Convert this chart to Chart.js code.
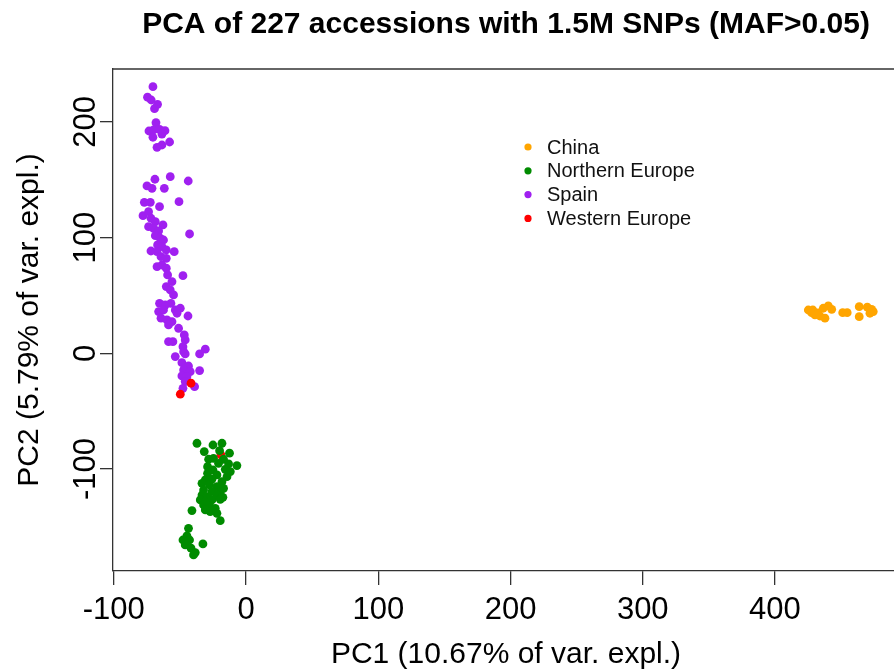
<!DOCTYPE html>
<html>
<head>
<meta charset="utf-8">
<script src="https://cdn.jsdelivr.net/npm/chart.js@4"></script>
<style>
  html, body { margin: 0; padding: 0; background: #fff; }
  canvas { display: block; }
</style>
</head>
<body>
<canvas id="pca" width="894" height="671"></canvas>
<script>
// PCA coordinates per population (PC1, PC2)
const chinaPC1 = [425.2, 427.7, 430.2, 434.0, 437.8, 436.5, 440.3, 442.9, 451.2, 454.6, 463.7, 463.7, 469.8, 473.1, 474.3, 471.8, 428.6, 432.5];
const chinaPC2 = [37.4, 35.1, 33.1, 32.2, 30.3, 38.9, 40.9, 38.0, 35.1, 35.1, 40.3, 31.6, 39.8, 38.0, 36.0, 34.6, 37.4, 34.8];

const northPC1 = [-37.1, -25.0, -18.2, -31.6, -12.5, -20.0, -28.3, -24.6, -17.0, -20.8, -13.2, -6.9, -29.1, -25.0, -15.7, -11.9,
  -29.1, -22.0, -14.4, -30.8, -25.8, -18.2, -33.3, -27.6, -22.0, -17.0, -32.1, -25.8, -19.5, -33.3, -29.1, -22.0,
  -17.5, -34.6, -30.8, -25.8, -19.5, -32.1, -27.6, -30.8, -23.3, -27.1, -40.9, -22.0, -19.5, -43.5, -44.7, -47.7,
  -42.7, -46.0, -32.6, -41.6, -38.4, -39.7];
const northPC2 = [-77.8, -79.3, -77.8, -85.0, -86.4, -84.2, -91.6, -90.8, -91.6, -95.1, -95.7, -97.1, -98.0, -100.9, -100.3, -102.3,
  -103.7, -105.2, -106.7, -109.5, -108.9, -111.0, -112.4, -113.8, -115.3, -116.7, -118.2, -119.6, -119.6, -122.5, -123.9, -122.5,
  -124.5, -126.8, -128.3, -126.8, -126.2, -131.1, -132.0, -135.4, -134.0, -136.9, -136.0, -138.3, -144.7, -151.3, -157.9, -161.4,
  -161.4, -165.7, -164.8, -168.5, -172.3, -174.3];

const spainPC1 = [-70.4, -74.5, -71.7, -66.9, -69.2, -68.1, -73.4, -69.9, -65.4, -61.3, -63.6, -70.4, -57.8, -63.6, -67.3,
  -68.9, -57.3, -43.7, -74.9, -61.8, -71.1, -76.9, -72.4, -65.4, -50.7, -77.9, -73.7, -71.9, -68.6, -73.7, -62.8,
  -69.9, -66.1, -42.7, -68.6, -64.9, -62.4, -66.9, -63.6, -71.9, -67.3, -60.3, -54.3, -64.3, -60.3, -67.3, -63.6,
  -60.3, -47.7, -59.3, -56.0, -60.3, -57.3, -54.8, -65.4, -61.1, -56.8, -66.1, -62.4, -53.5, -49.7, -52.2, -64.3,
  -59.8, -56.0, -43.9, -58.6, -51.0, -46.7, -46.0, -58.6, -55.3, -47.7, -47.2, -30.8, -46.0, -35.1, -53.5, -48.5,
  -43.5, -47.2, -42.2, -35.1, -48.5, -44.7, -46.0, -38.9, -47.7];
const spainPC2 = [230.4, 221.3, 218.9, 215.2, 211.4, 199.3, 192.1, 193.0, 193.6, 192.4, 189.5, 186.7, 182.6, 180.0, 178.0,
  150.4, 152.6, 148.9, 144.6, 142.6, 142.6, 130.5, 130.5, 126.7, 131.0, 118.9, 122.4, 116.7, 113.7, 109.4, 110.9,
  108.0, 105.7, 103.1, 101.6, 99.4, 97.9, 93.6, 92.1, 88.4, 87.8, 89.3, 87.8, 83.5, 82.1, 74.8, 76.3,
  73.5, 67.1, 67.7, 61.9, 57.6, 54.7, 50.4, 43.2, 41.7, 43.2, 36.0, 37.4, 37.4, 38.9, 34.6, 30.3,
  28.8, 27.3, 32.2, 24.5, 21.6, 15.8, 11.5, 10.0, 10.0, 5.7, 1.4, 3.5, -0.6, -0.6, -2.9, -8.1,
  -11.0, -14.4, -15.9, -15.0, -19.6, -20.2, -24.5, -28.9, -30.3];

const westPC1 = [-41.6, -49.7, -19.0];
const westPC2 = [-25.9, -35.4, -87.9];

const xTicks = [-100, 0, 100, 200, 300, 400];
const yTicks = [-100, 0, 100, 200];

const titleText = "PCA of 227 accessions with 1.5M SNPs (MAF>0.05)";
const xLabel = "PC1 (10.67% of var. expl.)";
const yLabel = "PC2 (5.79% of var. expl.)";

const toPoints = (xs, ys) => xs.map((x, i) => ({ x: x, y: ys[i] }));

const series = [
  { label: "China", color: "#FFA500", xs: chinaPC1, ys: chinaPC2, order: 0 },
  { label: "Northern Europe", color: "#008B00", xs: northPC1, ys: northPC2, order: 1 },
  { label: "Spain", color: "#A020F0", xs: spainPC1, ys: spainPC2, order: 3 },
  { label: "Western Europe", color: "#FF0000", xs: westPC1, ys: westPC2, order: 2 },
];

const font = "'Liberation Sans', Arial, sans-serif";
const axisColor = "#333";

// frame top line, titles, rotated y tick labels and the legend
const decorations = {
  id: "decorations",
  afterDraw(chart) {
    const ctx = chart.ctx;
    const a = chart.chartArea;
    const yScale = chart.scales.y;
    ctx.save();
    ctx.strokeStyle = axisColor;
    ctx.lineWidth = 1.3;
    ctx.beginPath();
    ctx.moveTo(a.left, a.top);
    ctx.lineTo(a.right, a.top);
    ctx.stroke();

    ctx.fillStyle = "#000";
    ctx.textAlign = "center";
    ctx.textBaseline = "middle";
    ctx.font = "bold 30px " + font;
    ctx.fillText(titleText, 506, 25);

    ctx.font = "30px " + font;
    ctx.fillText(xLabel, 506, 655);

    ctx.font = "31px " + font;
    yTicks.forEach((v) => {
      ctx.save();
      ctx.translate(86, yScale.getPixelForValue(v));
      ctx.rotate(-Math.PI / 2);
      ctx.fillText(String(v), 0, 0);
      ctx.restore();
    });

    ctx.font = "30px " + font;
    ctx.save();
    ctx.translate(30, 320);
    ctx.rotate(-Math.PI / 2);
    ctx.fillText(yLabel, 0, 0);
    ctx.restore();

    // legend, no box
    ctx.textAlign = "left";
    ctx.font = "20px " + font;
    series.forEach((s, i) => {
      const y = 147 + i * 23.8;
      ctx.fillStyle = s.color;
      ctx.beginPath();
      ctx.arc(528, y, 3.6, 0, Math.PI * 2);
      ctx.fill();
      ctx.fillStyle = "#111";
      ctx.fillText(s.label, 547, y + 1);
    });
    ctx.restore();
  },
};

new Chart(document.getElementById("pca"), {
  type: "scatter",
  data: {
    datasets: series.map((s) => ({
      label: s.label,
      data: toPoints(s.xs, s.ys),
      backgroundColor: s.color,
      borderColor: s.color,
      borderWidth: 0,
      pointRadius: 4.4,
      order: s.order,
    })),
  },
  options: {
    responsive: false,
    animation: false,
    layout: { autoPadding: false, padding: { top: 69, right: 0, bottom: 0, left: 0 } },
    plugins: {
      legend: { display: false },
      title: { display: false },
      tooltip: { enabled: false },
    },
    scales: {
      x: {
        type: "linear",
        min: -100.6,
        max: 490,
        afterBuildTicks: (scale) => { scale.ticks = xTicks.map((v) => ({ value: v })); },
        afterFit: (scale) => { scale.height = 100; },
        grid: { drawOnChartArea: false, tickLength: 14, color: axisColor, lineWidth: 1.3 },
        border: { color: axisColor, width: 1.3 },
        ticks: { color: "#000", font: { family: font, size: 31 }, padding: 7, maxRotation: 0 },
      },
      y: {
        type: "linear",
        min: -188.2,
        max: 245.7,
        afterBuildTicks: (scale) => { scale.ticks = yTicks.map((v) => ({ value: v })); },
        afterFit: (scale) => { scale.width = 113; },
        grid: { drawOnChartArea: false, tickLength: 13, color: axisColor, lineWidth: 1.3 },
        border: { color: axisColor, width: 1.3 },
        ticks: { display: false },
      },
    },
  },
  plugins: [decorations],
});
</script>
</body>
</html>
